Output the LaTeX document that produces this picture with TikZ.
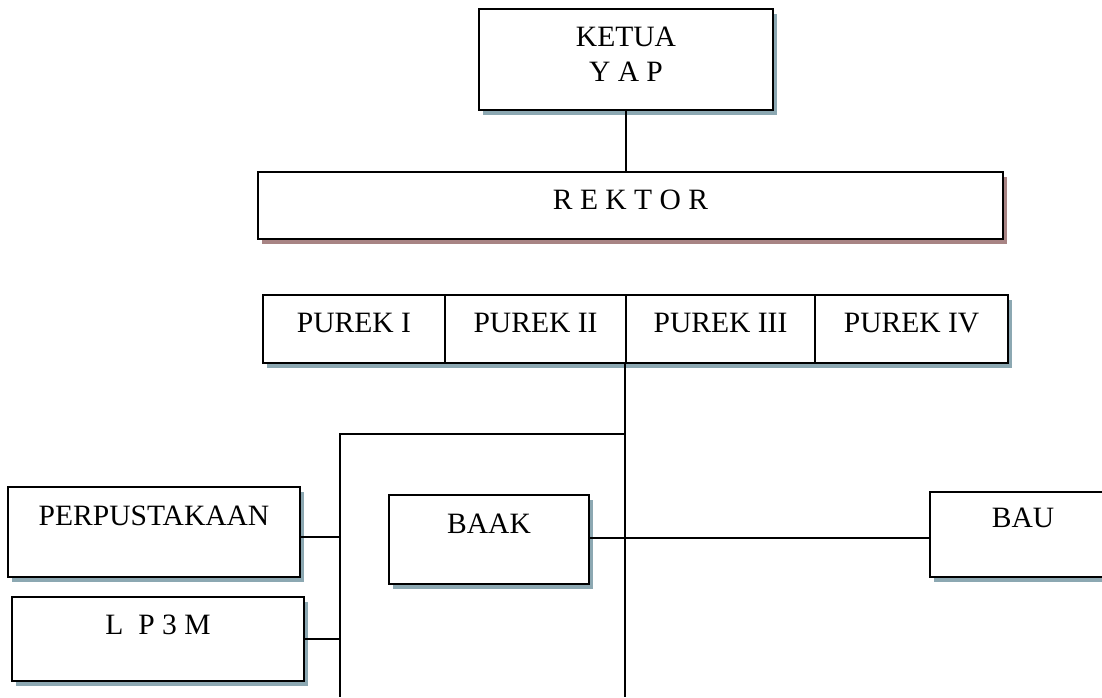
\documentclass[tikz,border=0pt]{standalone}
\usepackage{fontspec}
\setmainfont{Liberation Serif}
\usetikzlibrary{positioning,shadows}
\definecolor{shadowblue}{RGB}{140,168,178}
\definecolor{shadowred}{RGB}{168,132,132}

\begin{document}
\begin{tikzpicture}[x=0.025cm,y=-0.025cm,
	orgbox/.style={rectangle,draw,line width=0.05cm,fill=white,text height=0.475cm,font=\fontsize{21}{25}\selectfont,drop shadow={shadow xshift=0.1cm,shadow yshift=-0.125cm,fill=shadowblue,opacity=1}},
	purekbox/.style={orgbox,minimum height=1.7cm,text depth=0.325cm},
	link/.style={line width=0.04cm}]
		\useasboundingbox (0,0) rectangle (1102,697);
		\node [orgbox,minimum width=7.35cm,minimum height=2.525cm,align=center,text height=] (ketua) at (626,59.5) {KETUA\\Y A P\rule[-0.25cm]{0pt}{0pt}};
		\node [orgbox,minimum width=18.625cm,minimum height=1.675cm,text depth=0.3cm,drop shadow={shadow xshift=0.1cm,shadow yshift=-0.125cm,fill=shadowred,opacity=1}] (rektor) at (630.5,205.5) {R E K T O R};
		\node [purekbox,minimum width=4.55cm] (purek1) at (354,329) {PUREK I};
		\node [purekbox,minimum width=4.525cm] (purek2) at (535.5,329) {PUREK II};
		\node [purekbox,minimum width=4.725cm] (purek3) at (720.5,329) {PUREK III};
		\node [purekbox,minimum width=4.825cm] (purek4) at (911.5,329) {PUREK IV};
		\node [orgbox,minimum width=7.3cm,minimum height=2.25cm,text depth=0.825cm] (perpus) at (154,532) {PERPUSTAKAAN};
		\node [orgbox,minimum width=7.3cm,minimum height=2.1cm,text depth=0.725cm] (lppm) at (158,639) {L~~P 3 M};
		\node [orgbox,minimum width=5cm,minimum height=2.225cm,text depth=0.8cm] (baak) at (489,539.5) {BAAK};
		\node [orgbox,minimum width=4.65cm,minimum height=2.125cm,text depth=0.85cm] (bau) at (1023,534.5) {BAU};
		\coordinate (lefttop) at (340,434);
		\coordinate (leftend) at (340,697);
		\draw [link] (ketua.south) -- (ketua.south |- rektor.north);
		\draw [link] (purek3.south west) -- (purek3.south west |- leftend);
		\draw [link] (purek3.south west |- lefttop) -- (lefttop) -- (leftend);
		\draw [link] ([yshift=-0.125cm]perpus.east) -- ([yshift=-0.125cm]perpus.east -| lefttop);
		\draw [link] (lppm.east) -- (lppm.east -| lefttop);
		\draw [link] ([yshift=0.04cm]baak.east) -- ([yshift=0.04cm]baak.east -| bau.west);
	\end{tikzpicture}
\end{document}
